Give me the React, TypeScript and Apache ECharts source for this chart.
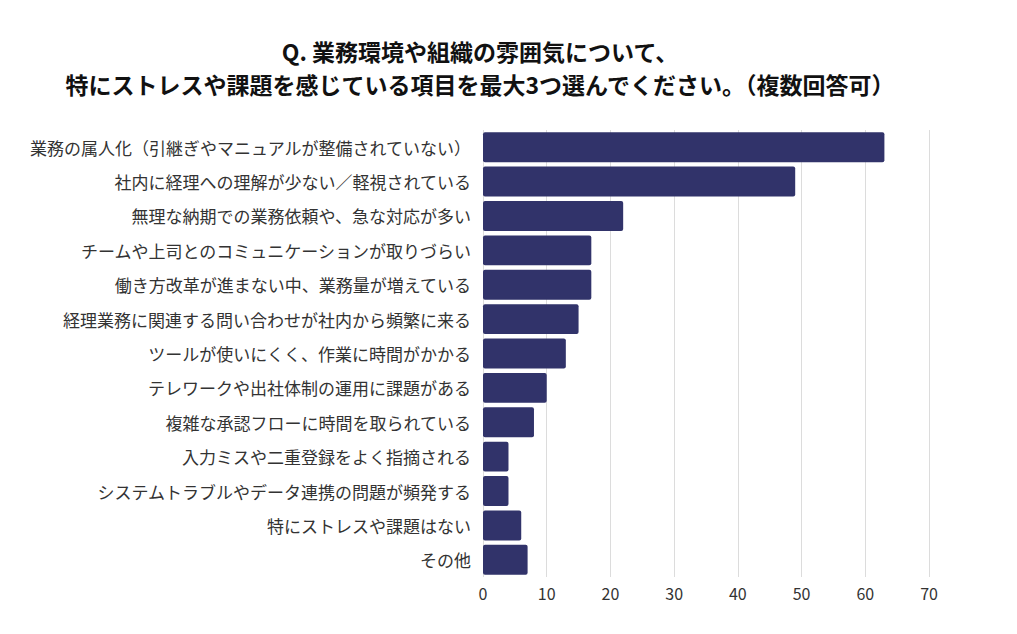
import React, { useEffect, useRef } from "react";
import * as echarts from "echarts";

const titleLines = [
  "Q. 業務環境や組織の雰囲気について、",
  "特にストレスや課題を感じている項目を最大3つ選んでください。（複数回答可）",
];

const categories = [
  "業務の属人化（引継ぎやマニュアルが整備されていない）",
  "社内に経理への理解が少ない／軽視されている",
  "無理な納期での業務依頼や、急な対応が多い",
  "チームや上司とのコミュニケーションが取りづらい",
  "働き方改革が進まない中、業務量が増えている",
  "経理業務に関連する問い合わせが社内から頻繁に来る",
  "ツールが使いにくく、作業に時間がかかる",
  "テレワークや出社体制の運用に課題がある",
  "複雑な承認フローに時間を取られている",
  "入力ミスや二重登録をよく指摘される",
  "システムトラブルやデータ連携の問題が頻発する",
  "特にストレスや課題はない",
  "その他",
];

const values = [63, 49, 22, 17, 17, 15, 13, 10, 8, 4, 4, 6, 7];

const FONT = "'Noto Sans CJK JP', 'Noto Sans', sans-serif";

export default function App() {
  const ref = useRef<HTMLDivElement>(null);
  useEffect(() => {
    if (!ref.current) return;
    const chart = echarts.init(ref.current, undefined, { renderer: "svg" });
    chart.setOption({
      animation: false,
      backgroundColor: "#ffffff",
      textStyle: { fontFamily: FONT },
      title: {
        text: titleLines.join("\n"),
        left: 475,
        top: 29,
        textAlign: "center",
        textStyle: {
          fontFamily: FONT,
          fontSize: 23,
          fontWeight: "bold",
          color: "#111111",
          lineHeight: 33,
        },
      },
      grid: { left: 483, right: 88, top: 130, bottom: 57, containLabel: false },
      xAxis: {
        type: "value",
        min: 0,
        max: 70,
        interval: 10,
        axisLine: { show: false },
        axisTick: { show: false },
        axisLabel: { color: "#333333", fontSize: 16, fontFamily: FONT, margin: 8 },
        splitLine: { show: true, lineStyle: { color: "#dcdcdc", width: 1 } },
      },
      yAxis: {
        type: "category",
        data: categories,
        inverse: true,
        axisLine: { show: false },
        axisTick: { show: false },
        axisLabel: { color: "#333333", fontSize: 17, fontFamily: FONT, margin: 12 },
      },
      series: [
        {
          type: "bar",
          data: values,
          barCategoryGap: "13%",
          itemStyle: { color: "#31336a", borderRadius: 2 },
        },
      ],
    });
    return () => chart.dispose();
  }, []);
  return <div ref={ref} style={{ width: 1017, height: 634, position: "absolute", left: 0, top: 0 }} />;
}
